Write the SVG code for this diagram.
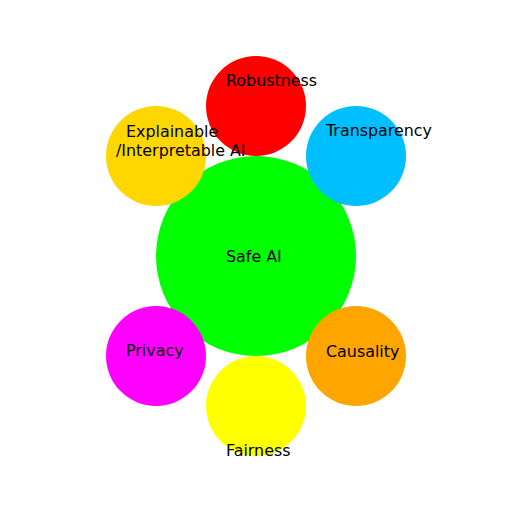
<svg xmlns="http://www.w3.org/2000/svg" width="512" height="512" viewBox="0 0 512 512">
<style>
text{font-family:"DejaVu Sans",sans-serif;font-size:15.9px;fill:#000}
</style>
<rect width="512" height="512" fill="#fff"/>
<g id="safe-ai"><circle cx="256" cy="256" r="100" fill="#00ff00"/></g>
<g id="robustness"><circle cx="256" cy="106" r="50" fill="#ff0000"/></g>
<g id="transparency"><circle cx="356" cy="156" r="50" fill="#00bfff"/></g>
<g id="explainable"><circle cx="156" cy="156" r="50" fill="#ffd700"/></g>
<g id="privacy"><circle cx="156" cy="356" r="50" fill="#ff00ff"/></g>
<g id="causality"><circle cx="356" cy="356" r="50" fill="#ffa500"/></g>
<g id="fairness"><circle cx="256" cy="406" r="50" fill="#ffff00"/></g>
<g id="connectors"></g>
<g id="labels">
<text x="226" y="262">Safe AI</text>
<text x="226" y="86">Robustness</text>
<text x="326" y="136">Transparency</text>
<text x="126" y="137">Explainable</text>
<text x="116" y="156">/Interpretable AI</text>
<text x="126" y="356">Privacy</text>
<text x="326" y="357">Causality</text>
<text x="226" y="456">Fairness</text>
</g>
</svg>
